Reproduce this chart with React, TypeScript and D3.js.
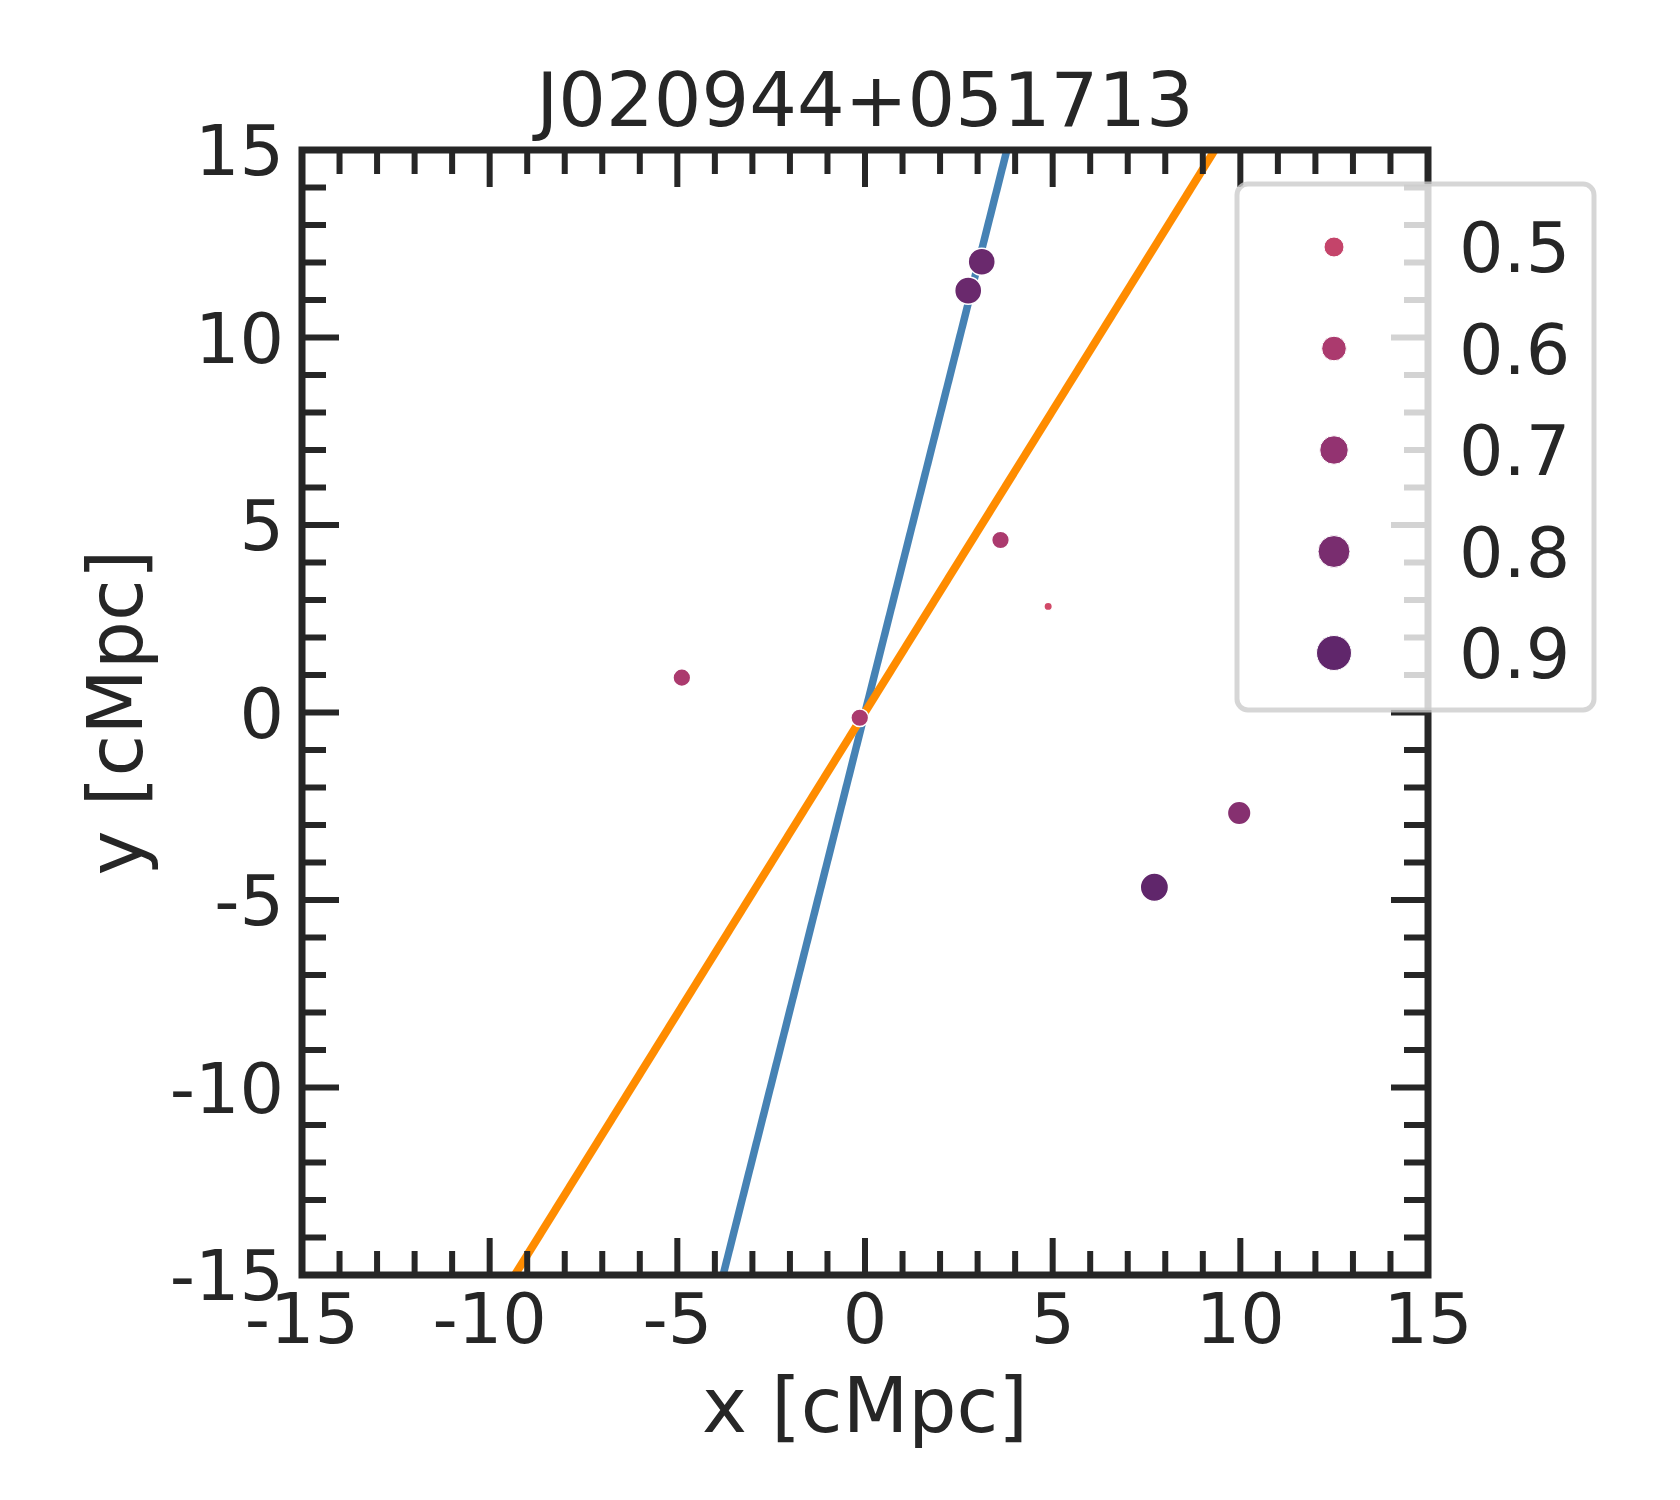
import React from "react";
import * as d3 from "d3";

// ---- data ----
const title = "J020944+051713";
const xLabel = "x [cMpc]";
const yLabel = "y [cMpc]";
const axisDomain: [number, number] = [-15, 15];
const majorTicks = [-15, -10, -5, 0, 5, 10, 15];
const minorTicks = d3.range(-15, 16, 1);

const pointX = [3.11, 2.75, -4.88, -0.14, 3.61, 4.88, 9.97, 7.71];
const pointY = [12.02, 11.25, 0.93, -0.14, 4.6, 2.83, -2.68, -4.66];
const pointZ = [0.86, 0.86, 0.6, 0.6, 0.6, 0.45, 0.75, 0.9];

const legendValues = [0.5, 0.6, 0.7, 0.8, 0.9];
const legendColors = ["#c4446a", "#ab3a6e", "#933371", "#792d6f", "#60266b"];

// line endpoints [x, y]
const blueLine: [number, number][] = [[-3.78, -15], [3.78, 15]];
const orangeLine: [number, number][] = [[-9.33, -15], [9.32, 15]];

const FONT = "'DejaVu Sans', sans-serif";
const INK = "#262626";

export default function App() {
  const left = 302, right = 1428, top = 150, bottom = 1275;
  const x = d3.scaleLinear().domain(axisDomain).range([left, right]);
  const y = d3.scaleLinear().domain(axisDomain).range([bottom, top]);
  const color = d3.scaleLinear<string>().domain(legendValues).range(legendColors);
  // area scales (px^2)
  const pointArea = d3.scaleLinear().domain([0.45, 0.9]).range([18, 200]);
  const legendArea = d3.scaleLinear().domain([0.5, 0.9]).range([100, 306]);
  const line = d3.line<[number, number]>().x((d) => x(d[0])).y((d) => y(d[1]));

  const majorLen = 37, minorLen = 24, tickW = 6;
  const ticks: JSX.Element[] = [];
  minorTicks.forEach((v) => {
    const isMajor = majorTicks.includes(v);
    const len = isMajor ? majorLen : minorLen;
    const px = x(v), py = y(v);
    ticks.push(<line key={`b${v}`} x1={px} x2={px} y1={bottom} y2={bottom - len} />);
    ticks.push(<line key={`t${v}`} x1={px} x2={px} y1={top} y2={top + len} />);
    ticks.push(<line key={`l${v}`} x1={left} x2={left + len} y1={py} y2={py} />);
    ticks.push(<line key={`r${v}`} x1={right} x2={right - len} y1={py} y2={py} />);
  });

  const legendX = 1237, legendY = 184, legendW = 357, legendH = 526;
  const legendRow0 = 247, legendStep = 101.5;

  return (
    <svg
      width={1680}
      height={1500}
      style={{ position: "absolute", left: 0, top: 0, display: "block", background: "#fff" }}
      fontFamily={FONT}
    >
      <defs>
        <clipPath id="plotClip">
          <rect x={left} y={top} width={right - left} height={bottom - top} />
        </clipPath>
      </defs>
      <rect x={0} y={0} width={1680} height={1500} fill="#fff" />

      <g clipPath="url(#plotClip)">
        <path d={line(blueLine) || ""} stroke="#4682b4" strokeWidth={7.5} fill="none" />
        <path d={line(orangeLine) || ""} stroke="#ff8c00" strokeWidth={8} fill="none" />
        {pointX.map((px, i) => (
          <circle
            key={i}
            cx={x(px)}
            cy={y(pointY[i])}
            r={Math.sqrt(pointArea(pointZ[i]))}
            fill={color(pointZ[i])}
            stroke="#fff"
            strokeWidth={1.5}
          />
        ))}
      </g>

      {/* ticks */}
      <g stroke={INK} strokeWidth={tickW}>{ticks}</g>
      {/* spines */}
      <rect
        x={left}
        y={top}
        width={right - left}
        height={bottom - top}
        fill="none"
        stroke={INK}
        strokeWidth={7}
        strokeLinejoin="miter"
      />

      {/* tick labels */}
      <g fill={INK} fontSize={70}>
        {majorTicks.map((v) => (
          <text key={`xl${v}`} x={x(v)} y={1343} textAnchor="middle">
            {String(v)}
          </text>
        ))}
        {majorTicks.map((v) => (
          <text key={`yl${v}`} x={284} y={y(v)} dy="0.36em" textAnchor="end">
            {String(v)}
          </text>
        ))}
      </g>

      {/* title and axis labels */}
      <text x={(left + right) / 2} y={126} textAnchor="middle" fontSize={75} fill={INK}>
        {title}
      </text>
      <text x={(left + right) / 2} y={1432} textAnchor="middle" fontSize={76} fill={INK}>
        {xLabel}
      </text>
      <text
        transform={`translate(142, ${(top + bottom) / 2}) rotate(-90)`}
        textAnchor="middle"
        fontSize={76}
        fill={INK}
      >
        {yLabel}
      </text>

      {/* legend */}
      <rect
        x={legendX}
        y={legendY}
        width={legendW}
        height={legendH}
        rx={11}
        ry={11}
        fill="#fff"
        fillOpacity={0.8}
        stroke="#cccccc"
        strokeOpacity={0.8}
        strokeWidth={5}
      />
      {legendValues.map((v, i) => {
        const cy = legendRow0 + i * legendStep;
        return (
          <g key={`lg${v}`}>
            <circle cx={1334} cy={cy} r={Math.sqrt(legendArea(v))} fill={legendColors[i]} stroke="#fff" strokeWidth={1} />
            <text x={1459} y={cy} dy="0.36em" fontSize={70} fill={INK}>
              {v.toFixed(1)}
            </text>
          </g>
        );
      })}
    </svg>
  );
}
